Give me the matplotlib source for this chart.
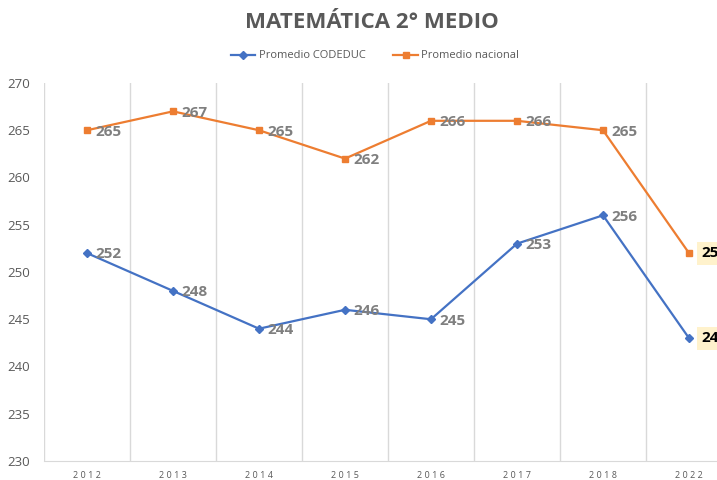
import matplotlib
matplotlib.use("Agg")
import matplotlib.pyplot as plt

years = ["2012", "2013", "2014", "2015", "2016", "2017", "2018", "2022"]
codeduc = [252, 248, 244, 246, 245, 253, 256, 243]
nacional = [265, 267, 265, 262, 266, 266, 265, 252]
yticks = [230, 235, 240, 245, 250, 255, 260, 265, 270]

blue = "#4472C4"
orange = "#ED7D31"
gray = "#7F7F7F"

plt.rcParams['font.family'] = ['Open Sans', 'DejaVu Sans']

fig = plt.figure(figsize=(7.17, 4.80), dpi=100)
ax = fig.add_axes([44/717, 1-461/480, 688/717, (461-83)/480])

x = list(range(len(years)))
ax.plot(x, codeduc, color=blue, lw=1.6, marker="D", ms=4, label="Promedio CODEDUC")
ax.plot(x, nacional, color=orange, lw=1.6, marker="s", ms=4.5, label="Promedio nacional")

for i, (a, b) in enumerate(zip(codeduc, nacional)):
    if i == len(years) - 1:
        for v in (a, b):
            ax.annotate(str(v), (i, v), xytext=(9, 0), textcoords="offset points",
                        va="center", ha="left", fontsize=11, fontweight="bold", color="black",
                        bbox=dict(boxstyle="square,pad=0.3", fc="#FFF2CC", ec="none"))
    else:
        for v in (a, b):
            ax.annotate(str(v), (i, v), xytext=(6, -1), textcoords="offset points",
                        va="center", ha="left", fontsize=11, fontweight="bold", color=gray)

ax.set_xlim(-0.5, len(years) - 0.5)
ax.set_ylim(230, 270)
ax.set_yticks(yticks)
ax.set_xticks(x)
ax.set_xticklabels([" ".join(y) for y in years], fontsize=6.5, color="#595959")
ax.tick_params(axis="y", labelsize=9.5, colors="#595959", length=0, pad=10)
ax.tick_params(axis="x", length=0, pad=7.5)

for b in [i - 0.5 for i in range(len(years) + 1)]:
    ax.axvline(b, color="#D9D9D9", lw=1, zorder=0)
for s in ["top", "right", "left"]:
    ax.spines[s].set_visible(False)
ax.spines["bottom"].set_color("#D9D9D9")

fig.text(372/717, 1-22/480, "MATEMÁTICA 2° MEDIO", ha="center", va="center",
         fontsize=16, fontweight="bold", color="#595959")
fig.legend(loc="center", bbox_to_anchor=(375/717, 1-56/480), ncol=2, frameon=False,
           fontsize=8, handlelength=2.2, handletextpad=0.3, columnspacing=2.5,
           labelcolor="#595959")

fig.savefig("out.png", dpi=100)
